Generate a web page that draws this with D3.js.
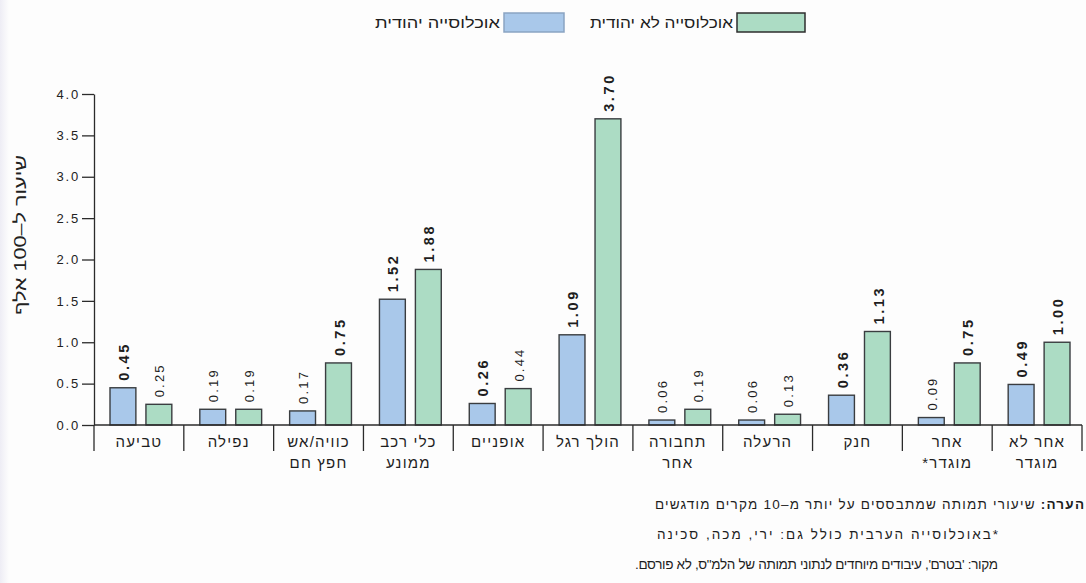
<!DOCTYPE html>
<html lang="he">
<head>
<meta charset="utf-8">
<script src="https://cdn.jsdelivr.net/npm/d3@7"></script>
<style>
  html, body { margin: 0; padding: 0; background: #fdfdfd; }
  svg { display: block; font-family: "Liberation Sans", Arial, "DejaVu Sans", sans-serif; }
</style>
</head>
<body>
<svg id="chart" width="1086" height="583"></svg>
<script>
// Cause-of-death categories, left to right; "\n" splits a label into two lines
const categories = [
  "טביעה",
  "נפילה",
  "כוויה/אש\nחפץ חם",
  "כלי רכב\nממונע",
  "אופניים",
  "הולך רגל",
  "תחבורה\nאחר",
  "הרעלה",
  "חנק",
  "אחר\nמוגדר*",
  "אחר לא\nמוגדר"
];

// Mortality rate per 100,000
const jewishValues    = [0.45, 0.19, 0.17, 1.52, 0.26, 1.09, 0.06, 0.06, 0.36, 0.09, 0.49];
const nonJewishValues = [0.25, 0.19, 0.75, 1.88, 0.44, 3.70, 0.19, 0.13, 1.13, 0.75, 1.00];

// Rates based on more than 10 cases are printed in bold
const jewishBold    = [true, false, false, true, true, true, false, false, true, false, true];
const nonJewishBold = [false, false, true, true, false, true, false, false, true, true, true];

const seriesNames = ["אוכלוסייה יהודית", "אוכלוסייה לא יהודית"];
const yTicks = [0, 0.5, 1, 1.5, 2, 2.5, 3, 3.5, 4];
const yTitle = "שיעור ל–100 אלף";
const notes = [
  { bold: "הערה:", text: " שיעורי תמותה שמתבססים על יותר מ–10 מקרים מודגשים" },
  { bold: "", text: "*באוכלוסייה הערבית כולל גם: ירי, מכה, סכינה" },
  { bold: "", text: "מקור: 'בטרם', עיבודים מיוחדים לנתוני תמותה של הלמ\"ס, לא פורסם." }
];

const colors = { jewish: "#a9c8ea", nonJewish: "#acdcc4" };
const ink = "#2b2b2b";

const svg = d3.select("#chart");

// soft tint along the left edge
const defs = svg.append("defs");
const grad = defs.append("linearGradient").attr("id", "edge").attr("x1", 0).attr("x2", 1);
grad.append("stop").attr("offset", 0).attr("stop-color", "#eeedf5");
grad.append("stop").attr("offset", 1).attr("stop-color", "#fdfdfd");
svg.append("rect").attr("x", 0).attr("y", 0).attr("width", 9).attr("height", 583).attr("fill", "url(#edge)");

const plot = { left: 94, right: 1082, top: 94, bottom: 425 };

const y = d3.scaleLinear().domain([0, 4]).range([plot.bottom, plot.top]);
const x0 = d3.scaleBand().domain(categories).range([plot.left, plot.right]).padding(0);
const bw = x0.bandwidth();
const x1 = d3.scaleBand().domain(["jewish", "nonJewish"]).range([16, bw - 12]).paddingInner(0.28);

const rows = categories.map((c, i) => ({
  cat: c,
  bars: [
    { key: "jewish", value: jewishValues[i], bold: jewishBold[i] },
    { key: "nonJewish", value: nonJewishValues[i], bold: nonJewishBold[i] }
  ]
}));

// y axis
const yAxis = d3.axisLeft(y).tickValues(yTicks).tickFormat(d3.format(".1f")).tickSize(12).tickSizeOuter(0).tickPadding(2);
const gy = svg.append("g").attr("transform", `translate(${plot.left},0)`).call(yAxis);
gy.select(".domain").attr("stroke", ink).attr("stroke-width", 1.3);
gy.selectAll(".tick line").attr("stroke", ink).attr("stroke-width", 1.3);
gy.selectAll(".tick text").attr("font-size", 13).attr("fill", "#222")
  .attr("letter-spacing", 1.8);

svg.append("text")
  .attr("transform", `translate(20,235) rotate(-90)`)
  .attr("text-anchor", "middle")
  .attr("direction", "rtl")
  .attr("dy", "0.35em")
  .attr("font-size", 16)
  .attr("textLength", 160)
  .attr("lengthAdjust", "spacingAndGlyphs")
  .attr("fill", "#222")
  .text(yTitle);

// bars
const groups = svg.append("g").selectAll("g").data(rows).join("g")
  .attr("transform", d => `translate(${x0(d.cat)},0)`);

groups.selectAll("rect").data(d => d.bars).join("rect")
  .attr("x", d => x1(d.key))
  .attr("width", x1.bandwidth())
  .attr("y", d => y(d.value))
  .attr("height", d => y(0) - y(d.value))
  .attr("fill", d => colors[d.key])
  .attr("stroke", "#3a3d40")
  .attr("stroke-width", 1.4);

groups.selectAll("text.val").data(d => d.bars).join("text")
  .attr("class", "val")
  .attr("transform", d => `translate(${x1(d.key) + x1.bandwidth() / 2 + 1},${y(d.value) - 7}) rotate(-90)`)
  .attr("dy", "0.35em")
  .attr("text-anchor", "start")
  .attr("font-size", d => d.bold ? 14.5 : 13)
  .attr("font-weight", d => d.bold ? "bold" : "normal")
  .attr("letter-spacing", d => d.bold ? 2.6 : 2.2)
  .attr("fill", "#1e1e1e")
  .text(d => d3.format(".2f")(d.value));

// x axis line and category separators
svg.append("line")
  .attr("x1", plot.left).attr("x2", plot.right)
  .attr("y1", plot.bottom).attr("y2", plot.bottom)
  .attr("stroke", ink).attr("stroke-width", 1.4);

const seps = categories.map(c => x0(c)).concat([x0(categories[categories.length - 1]) + bw]);
svg.append("g").selectAll("line").data(seps).join("line")
  .attr("x1", d => d).attr("x2", d => d)
  .attr("y1", plot.bottom).attr("y2", plot.bottom + 26)
  .attr("stroke", ink).attr("stroke-width", 1.3);

// category labels
const xl = svg.append("g").selectAll("text").data(categories).join("text")
  .attr("x", d => x0(d) + bw / 2)
  .attr("y", plot.bottom + 22)
  .attr("text-anchor", "middle")
  .attr("direction", "rtl")
  .attr("font-size", 15)
  .attr("letter-spacing", 1.2)
  .attr("fill", "#1e1e1e");
xl.selectAll("tspan").data(d => d.split("\n")).join("tspan")
  .attr("x", function() { return d3.select(this.parentNode).attr("x"); })
  .attr("dy", (d, i) => i === 0 ? 0 : 21)
  .text(d => d);

// legend
const legend = [
  { key: "nonJewish", name: seriesNames[1], bx: 737, bw: 68, tl: 143, stroke: "#2e2e2e" },
  { key: "jewish", name: seriesNames[0], bx: 504, bw: 60, tl: 125, stroke: "#8aa4c2" }
];
const lg = svg.append("g").selectAll("g").data(legend).join("g");
lg.append("rect")
  .attr("x", d => d.bx).attr("y", 13)
  .attr("width", d => d.bw).attr("height", 19)
  .attr("fill", d => colors[d.key])
  .attr("stroke", d => d.stroke).attr("stroke-width", 1.5);
lg.append("text")
  .attr("x", d => d.bx - 4).attr("y", 23)
  .attr("dy", "0.35em")
  .attr("direction", "rtl")
  .attr("text-anchor", "start")
  .attr("font-size", 14.5)
  .attr("textLength", d => d.tl)
  .attr("lengthAdjust", "spacingAndGlyphs")
  .attr("fill", "#1e1e1e")
  .text(d => d.name);

// notes under the chart
const noteSpan = [[655, 1084], [657, 998], [635, 998]];
const nt = svg.append("g").selectAll("text").data(notes).join("text")
  .attr("x", (d, i) => noteSpan[i][1])
  .attr("y", (d, i) => 509 + i * 30)
  .attr("direction", "rtl")
  .attr("text-anchor", "start")
  .attr("font-size", 13.5)
  .attr("textLength", (d, i) => noteSpan[i][1] - noteSpan[i][0])
  .attr("lengthAdjust", "spacing")
  .attr("fill", "#1e1e1e");
nt.append("tspan").attr("font-weight", "bold").text(d => d.bold);
nt.append("tspan").text(d => d.text);
</script>
</body>
</html>
